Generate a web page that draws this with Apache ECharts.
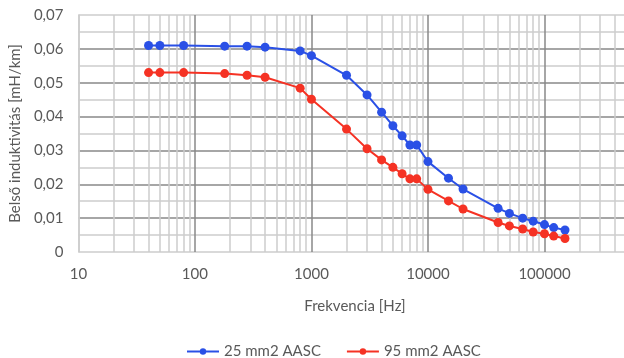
<!DOCTYPE html>
<html>
<head>
<meta charset="utf-8">
<script src="https://cdn.jsdelivr.net/npm/echarts@6/dist/echarts.min.js"></script>
<style>
  html, body { margin: 0; padding: 0; background: #fff; overflow: hidden; }
  /* wider than the window: the source image is cropped on the right */
  #chart { width: 700px; height: 358px; }
</style>
</head>
<body>
<div id="chart"></div>
<script>
// frequency points [Hz]
const freqs = [40, 50, 80, 180, 280, 400, 800, 1000, 2000, 3000, 4000, 5000, 6000, 7000, 8000,
  10000, 15000, 20000, 40000, 50000, 65000, 80000, 100000, 120000, 150000];

// internal inductance [mH/km]
const aasc25 = [0.061, 0.061, 0.061, 0.0608, 0.0608, 0.0605, 0.0594, 0.058, 0.0522, 0.0464, 0.0413,
  0.0373, 0.0343, 0.0316, 0.0316, 0.0267, 0.0218, 0.0186, 0.0129, 0.0114, 0.01, 0.0091, 0.0081,
  0.0072, 0.0065];
const aasc95 = [0.053, 0.053, 0.053, 0.0527, 0.0522, 0.0516, 0.0484, 0.0451, 0.0363, 0.0305, 0.0272,
  0.025, 0.0231, 0.0216, 0.0216, 0.0185, 0.0151, 0.0127, 0.0087, 0.0077, 0.0068, 0.0059, 0.0054,
  0.0047, 0.004];

const seriesNames = ["25 mm2 AASC", "95 mm2 AASC"];

// minor log gridlines (2..9 per decade)
const minorX = [];
[10, 100, 1000, 10000, 100000].forEach((d) => {
  for (let k = 2; k <= 9; k++) minorX.push(d * k);
});

const FONT = "Lato, 'Open Sans', sans-serif";
const TEXT = "#595959";
const MAJOR = "#888888";
const MINOR = "#cdcdcd";
const FS = 15;

const chart = echarts.init(document.getElementById("chart"), null, { renderer: "canvas" });

const toPairs = (ys) => freqs.map((f, i) => [f, ys[i]]);

chart.setOption({
  animation: false,
  textStyle: { fontFamily: FONT },
  title: {
    text: "Frekvencia [Hz]",
    left: 350,
    top: 294,
    textAlign: "center",
    textStyle: { color: TEXT, fontSize: FS, fontWeight: "normal", fontFamily: FONT },
  },
  legend: {
    data: seriesNames,
    left: 181,
    top: 339,
    itemWidth: 32,
    itemHeight: 8,
    itemGap: 25,
    textStyle: { color: TEXT, fontSize: FS, fontFamily: FONT },
  },
  grid: { left: 77, top: 15, right: 39, bottom: 106 },
  xAxis: {
    type: "log",
    logBase: 10,
    min: 10,
    max: 1000000,
    axisLine: { show: false },
    axisTick: { show: false },
    axisLabel: {
      color: TEXT,
      fontSize: FS,
      margin: 15,
      formatter: (v) => String(Math.round(v)),
    },
    splitLine: {
      show: true,
      lineStyle: { color: [MINOR, MAJOR, MAJOR, MAJOR, MAJOR, MAJOR], width: 1.5 },
    },
  },
  yAxis: {
    type: "value",
    min: 0,
    max: 0.07,
    interval: 0.01,
    name: "Belső induktivitás [mH/km]",
    nameLocation: "middle",
    nameGap: 50,
    nameTextStyle: { color: TEXT, fontSize: FS, fontFamily: FONT },
    axisLine: { show: true, lineStyle: { color: MINOR, width: 1.5 } },
    axisTick: { show: false },
    axisLabel: {
      color: TEXT,
      fontSize: FS,
      margin: 15,
      formatter: (v) => (v === 0 ? "0" : v.toFixed(2).replace(".", ",")),
    },
    splitLine: {
      show: true,
      lineStyle: {
        color: [MINOR, MAJOR, MAJOR, MAJOR, MAJOR, MAJOR, MAJOR, MINOR],
        width: 1.5,
      },
    },
    minorTick: { show: false, splitNumber: 2 },
    minorSplitLine: { show: true, lineStyle: { color: MINOR, width: 1.5 } },
  },
  series: [
    {
      name: "grid-minor",
      type: "line",
      data: [],
      z: 1,
      silent: true,
      markLine: {
        silent: true,
        z: 1,
        symbol: ["none", "none"],
        label: { show: false },
        emphasis: { disabled: true },
        lineStyle: { color: MINOR, type: "solid", width: 1.5 },
        data: minorX.map((v) => ({ xAxis: v })),
        animation: false,
      },
    },
    {
      name: seriesNames[0],
      type: "line",
      data: toPairs(aasc25),
      z: 3,
      symbol: "circle",
      symbolSize: 9,
      color: "#2a50e6",
      lineStyle: { width: 2, color: "#2a50e6" },
      itemStyle: { color: "#2a50e6" },
    },
    {
      name: seriesNames[1],
      type: "line",
      data: toPairs(aasc95),
      z: 3,
      symbol: "circle",
      symbolSize: 9,
      color: "#f53224",
      lineStyle: { width: 2, color: "#f53224" },
      itemStyle: { color: "#f53224" },
    },
  ],
});
</script>
</body>
</html>
